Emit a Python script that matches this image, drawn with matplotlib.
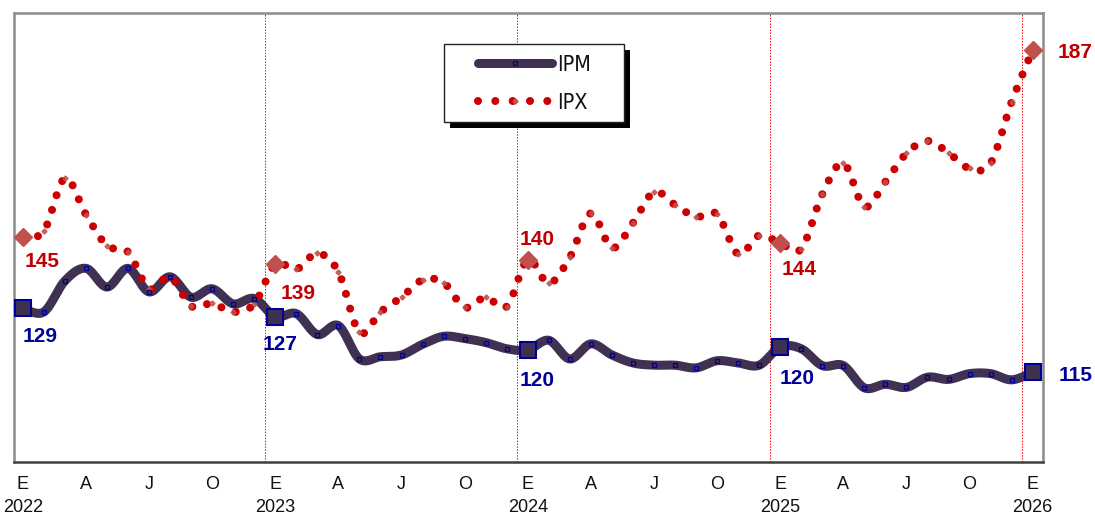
import numpy as np
import matplotlib
matplotlib.use("Agg")
import matplotlib.pyplot as plt
from matplotlib import transforms
from matplotlib.patches import Rectangle
from matplotlib.lines import Line2D

# ---------------- data (Jan 2022 .. Jan 2026, monthly) ----------------
months = list(range(49))
ipm = [129.0, 128.2, 135.2, 138.0, 133.8, 138.0, 132.7, 136.1, 131.5, 133.4, 130.0, 131.2,
       127.1, 127.8, 123.1, 125.1, 117.6, 118.1, 118.5, 120.9, 122.7, 122.2, 121.3, 119.9,
       119.6, 121.8, 117.6, 121.0, 118.5, 116.7, 116.2, 116.2, 115.6, 117.2, 116.7, 116.2,
       120.3, 119.9, 116.1, 116.1, 111.1, 111.9, 111.2, 113.5, 113.0, 114.3, 114.3, 112.9, 114.6]
ipx = [145.0, 146.4, 158.3, 150.1, 143.1, 141.7, 133.4, 136.1, 129.5, 130.1, 128.2, 130.0,
       138.9, 137.8, 141.4, 137.2, 123.6, 128.2, 131.5, 135.4, 134.8, 129.2, 131.5, 129.4,
       139.9, 134.6, 140.5, 150.4, 142.6, 148.2, 155.2, 152.3, 149.6, 150.2, 141.2, 145.4,
       143.7, 142.4, 154.7, 161.7, 151.9, 157.5, 163.9, 166.7, 164.0, 160.5, 161.7, 175.5, 187.2]
month_ticks = [0, 3, 6, 9, 12, 15, 18, 21, 24, 27, 30, 33, 36, 39, 42, 45, 48]
month_labels = ["E", "A", "J", "O"] * 4 + ["E"]
year_ticks = [0, 12, 24, 36, 48]
year_labels = ["2022", "2023", "2024", "2025", "2026"]
series_names = ["IPM", "IPX"]

W, H = 1095, 515
C_IPM = "#403152"
C_IPM_EDGE = "#000099"
C_IPX = "#CC0000"
C_IPX_MK = "#C0504D"
C_IPM_TXT = "#000099"
C_IPX_TXT = "#C00000"

plt.rcParams["font.family"] = ["Liberation Sans", "DejaVu Sans"]


def catmull(x, y, n=20):
    P = np.column_stack([np.asarray(x, float), np.asarray(y, float)])
    P = np.vstack([P[0], P, P[-1]])
    t = np.linspace(0, 1, n, endpoint=False)[:, None]
    out = []
    for i in range(1, len(P) - 2):
        p0, p1, p2, p3 = P[i - 1], P[i], P[i + 1], P[i + 2]
        seg = 0.5 * ((2 * p1) + (-p0 + p2) * t + (2 * p0 - 5 * p1 + 4 * p2 - p3) * t ** 2
                     + (-p0 + 3 * p1 - 3 * p2 + p3) * t ** 3)
        out.append(seg)
    out.append(P[-2][None, :])
    return np.vstack(out)


fig = plt.figure(figsize=(W / 100, H / 100), dpi=100)
ax = fig.add_axes([14 / W, 1 - 462 / H, (1043 - 14) / W, (462 - 13) / H])
ax.set_xlim(-0.42, 48.49)
ax.set_ylim(94.4, 195.5)

# year separators
for yt in year_ticks[1:]:
    ax.axvline(yt - 0.5, color="#ff0000", lw=0.7, ls=(0, (1.5, 1.5)), zorder=1)

# IPM
s = catmull(months, ipm)
ax.plot(s[:, 0], s[:, 1], color=C_IPM, lw=6.5, solid_capstyle="round", zorder=2)
ax.plot(months, ipm, ls="none", marker="s", ms=3, mfc=C_IPM, mec=C_IPM_EDGE, mew=0.9, zorder=5)
ax.plot(months[::12], ipm[::12], ls="none", marker="s", ms=11, mfc=C_IPM, mec=C_IPM_EDGE,
        mew=1.5, zorder=6)

# IPX
s2 = catmull(months, ipx)
ax.plot(s2[:, 0], s2[:, 1], color=C_IPX, lw=5.8, ls=(0, (0.001, 1.9)),
        dash_capstyle="round", zorder=3)
ax.plot(months, ipx, ls="none", marker="D", ms=2.6, color=C_IPX_MK, alpha=0.85, zorder=4)
ax.plot(months[::12], ipx[::12], ls="none", marker="D", ms=9, color=C_IPX_MK, zorder=6)

# value labels at January points (offsets in pixels, image-down convention, to baseline-left)
ipm_off = [(0, 26), (-13, 26), (-8, 28), (-1, 30), (26, 1)]
ipx_off = [(2, 22), (5, 27), (-8, -22), (1, 24), (25, 1)]
cap = 7.5
for k, m in enumerate(year_ticks):
    dx, dy = ipm_off[k]
    ax.annotate(f"{ipm[m]:.0f}", (m, ipm[m]), xytext=(dx, -(dy + cap)),
                textcoords="offset pixels", ha="left", va="baseline",
                fontsize=15, fontweight="bold", color=C_IPM_TXT, zorder=7,
                annotation_clip=False)
    dx, dy = ipx_off[k]
    ax.annotate(f"{ipx[m]:.0f}", (m, ipx[m]), xytext=(dx, -(dy + cap)),
                textcoords="offset pixels", ha="left", va="baseline",
                fontsize=15, fontweight="bold", color=C_IPX_TXT, zorder=7,
                annotation_clip=False)

# axes styling
ax.set_yticks([])
ax.set_xticks([])
for side in ["top", "left", "right"]:
    ax.spines[side].set_color("#8c8c8c")
    ax.spines[side].set_linewidth(1.8)
ax.spines["bottom"].set_color("#404040")
ax.spines["bottom"].set_linewidth(1.8)

# tick labels as text below axis
ax_h = 462 - 13
xt = transforms.blended_transform_factory(ax.transData, ax.transAxes)
for m, lab in zip(month_ticks, month_labels):
    ax.text(m, (462 - 489) / ax_h, lab, transform=xt, ha="center", va="baseline",
            fontsize=13, color="#111111")
for m, lab in zip(year_ticks, year_labels):
    ax.text(m, (462 - 512) / ax_h, lab, transform=xt, ha="center", va="baseline",
            fontsize=13, color="#111111")

# legend drawn manually in figure pixel coords
pt = transforms.Affine2D().scale(1 / W, -1 / H).translate(0, 1) + fig.transFigure
fig.patches.append(Rectangle((449.5, 49.5), 180, 78, transform=pt, facecolor="black",
                             edgecolor="none", zorder=10))
fig.patches.append(Rectangle((443.7, 43.7), 180, 78, transform=pt, facecolor="white",
                             edgecolor="#222222", lw=1.0, zorder=11))
fig.lines.append(Line2D([478, 552], [62.7, 62.7], transform=pt, color=C_IPM, lw=6.5,
                        solid_capstyle="round", zorder=12))
fig.lines.append(Line2D([515], [62.7], transform=pt, ls="none", marker="s", ms=3,
                        mfc=C_IPM, mec=C_IPM_EDGE, mew=0.9, zorder=13))
fig.lines.append(Line2D([478, 551], [101, 101], transform=pt, color=C_IPX, lw=5.8,
                        ls=(0, (0.001, 2.15)), dash_capstyle="round", zorder=12))
fig.lines.append(Line2D([515], [101], transform=pt, ls="none", marker="D", ms=2.6,
                        color=C_IPX_MK, zorder=13))
for yb, name in zip([70.7, 109], series_names):
    fig.text(557 / W, 1 - yb / H, name, ha="left", va="baseline", fontsize=15.5,
             family=["DejaVu Sans"], fontstretch="condensed",
             color="#111111", zorder=14)

fig.savefig("out.png", dpi=100)
